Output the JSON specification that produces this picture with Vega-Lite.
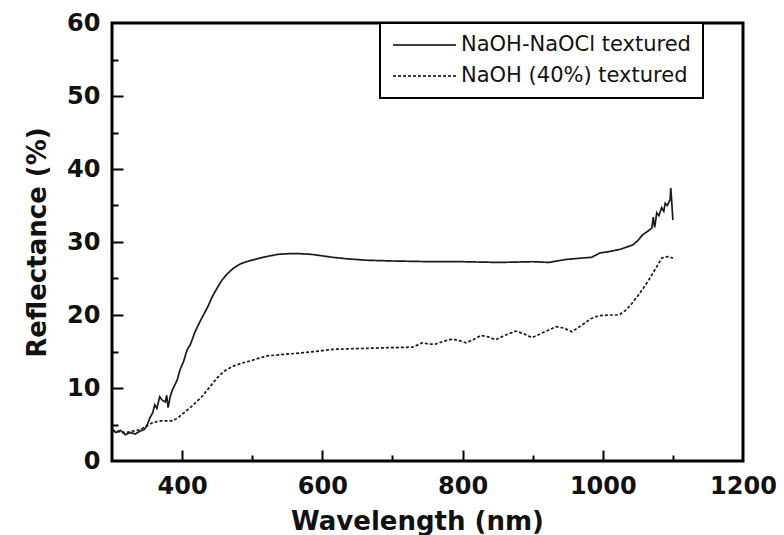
{
  "$schema": "https://vega.github.io/schema/vega-lite/v6.json",
  "width": 631,
  "height": 438,
  "autosize": {"type": "none"},
  "padding": {"left": 112, "top": 23, "right": 41, "bottom": 74},
  "background": "white",
  "config": {
    "view": {"stroke": "black", "strokeWidth": 3},
    "axis": {
      "grid": false,
      "domain": false,
      "tickColor": "black",
      "tickWidth": 2,
      "labelFont": "DejaVu Sans",
      "labelFontWeight": "bold",
      "labelFontSize": 24,
      "labelColor": "#111",
      "titleFont": "DejaVu Sans",
      "titleFontWeight": "bold",
      "titleFontSize": 26,
      "titleColor": "#111"
    },
    "legend": {
      "labelFont": "DejaVu Sans",
      "labelFontSize": 21,
      "labelColor": "#111",
      "labelLimit": 500,
      "strokeWidth": 2
    }
  },
  "datasets": {
    "spec": [
      {"wl": 300, "R": 4.5, "series": "NaOH-NaOCl textured"},
      {"wl": 305, "R": 3.9, "series": "NaOH-NaOCl textured"},
      {"wl": 312, "R": 4.2, "series": "NaOH-NaOCl textured"},
      {"wl": 319, "R": 3.6, "series": "NaOH-NaOCl textured"},
      {"wl": 326, "R": 3.9, "series": "NaOH-NaOCl textured"},
      {"wl": 333, "R": 3.7, "series": "NaOH-NaOCl textured"},
      {"wl": 340, "R": 4.1, "series": "NaOH-NaOCl textured"},
      {"wl": 346, "R": 4.3, "series": "NaOH-NaOCl textured"},
      {"wl": 350, "R": 4.9, "series": "NaOH-NaOCl textured"},
      {"wl": 354, "R": 5.9, "series": "NaOH-NaOCl textured"},
      {"wl": 358, "R": 6.6, "series": "NaOH-NaOCl textured"},
      {"wl": 361, "R": 7.7, "series": "NaOH-NaOCl textured"},
      {"wl": 364, "R": 7.2, "series": "NaOH-NaOCl textured"},
      {"wl": 368, "R": 8.8, "series": "NaOH-NaOCl textured"},
      {"wl": 372, "R": 8.3, "series": "NaOH-NaOCl textured"},
      {"wl": 376, "R": 8.1, "series": "NaOH-NaOCl textured"},
      {"wl": 378, "R": 9.0, "series": "NaOH-NaOCl textured"},
      {"wl": 380, "R": 7.3, "series": "NaOH-NaOCl textured"},
      {"wl": 383, "R": 8.8, "series": "NaOH-NaOCl textured"},
      {"wl": 386, "R": 9.7, "series": "NaOH-NaOCl textured"},
      {"wl": 390, "R": 10.5, "series": "NaOH-NaOCl textured"},
      {"wl": 393, "R": 11.1, "series": "NaOH-NaOCl textured"},
      {"wl": 397, "R": 12.5, "series": "NaOH-NaOCl textured"},
      {"wl": 402, "R": 13.6, "series": "NaOH-NaOCl textured"},
      {"wl": 407, "R": 15.2, "series": "NaOH-NaOCl textured"},
      {"wl": 412, "R": 16.0, "series": "NaOH-NaOCl textured"},
      {"wl": 418, "R": 17.6, "series": "NaOH-NaOCl textured"},
      {"wl": 426, "R": 19.2, "series": "NaOH-NaOCl textured"},
      {"wl": 436, "R": 21.0, "series": "NaOH-NaOCl textured"},
      {"wl": 443, "R": 22.5, "series": "NaOH-NaOCl textured"},
      {"wl": 450, "R": 23.7, "series": "NaOH-NaOCl textured"},
      {"wl": 457, "R": 24.8, "series": "NaOH-NaOCl textured"},
      {"wl": 464, "R": 25.6, "series": "NaOH-NaOCl textured"},
      {"wl": 473, "R": 26.4, "series": "NaOH-NaOCl textured"},
      {"wl": 483, "R": 27.0, "series": "NaOH-NaOCl textured"},
      {"wl": 495, "R": 27.4, "series": "NaOH-NaOCl textured"},
      {"wl": 507, "R": 27.7, "series": "NaOH-NaOCl textured"},
      {"wl": 520, "R": 28.0, "series": "NaOH-NaOCl textured"},
      {"wl": 536, "R": 28.3, "series": "NaOH-NaOCl textured"},
      {"wl": 552, "R": 28.4, "series": "NaOH-NaOCl textured"},
      {"wl": 568, "R": 28.4, "series": "NaOH-NaOCl textured"},
      {"wl": 585, "R": 28.3, "series": "NaOH-NaOCl textured"},
      {"wl": 600, "R": 28.1, "series": "NaOH-NaOCl textured"},
      {"wl": 615, "R": 27.9, "series": "NaOH-NaOCl textured"},
      {"wl": 635, "R": 27.7, "series": "NaOH-NaOCl textured"},
      {"wl": 663, "R": 27.5, "series": "NaOH-NaOCl textured"},
      {"wl": 700, "R": 27.4, "series": "NaOH-NaOCl textured"},
      {"wl": 757, "R": 27.3, "series": "NaOH-NaOCl textured"},
      {"wl": 800, "R": 27.3, "series": "NaOH-NaOCl textured"},
      {"wl": 852, "R": 27.2, "series": "NaOH-NaOCl textured"},
      {"wl": 900, "R": 27.3, "series": "NaOH-NaOCl textured"},
      {"wl": 923, "R": 27.2, "series": "NaOH-NaOCl textured"},
      {"wl": 947, "R": 27.6, "series": "NaOH-NaOCl textured"},
      {"wl": 970, "R": 27.8, "series": "NaOH-NaOCl textured"},
      {"wl": 984, "R": 27.9, "series": "NaOH-NaOCl textured"},
      {"wl": 996, "R": 28.5, "series": "NaOH-NaOCl textured"},
      {"wl": 1010, "R": 28.7, "series": "NaOH-NaOCl textured"},
      {"wl": 1025, "R": 29.0, "series": "NaOH-NaOCl textured"},
      {"wl": 1043, "R": 29.6, "series": "NaOH-NaOCl textured"},
      {"wl": 1050, "R": 30.2, "series": "NaOH-NaOCl textured"},
      {"wl": 1057, "R": 31.0, "series": "NaOH-NaOCl textured"},
      {"wl": 1063, "R": 31.4, "series": "NaOH-NaOCl textured"},
      {"wl": 1070, "R": 31.9, "series": "NaOH-NaOCl textured"},
      {"wl": 1072, "R": 33.4, "series": "NaOH-NaOCl textured"},
      {"wl": 1074, "R": 32.0, "series": "NaOH-NaOCl textured"},
      {"wl": 1077, "R": 34.0, "series": "NaOH-NaOCl textured"},
      {"wl": 1080, "R": 33.6, "series": "NaOH-NaOCl textured"},
      {"wl": 1084, "R": 34.7, "series": "NaOH-NaOCl textured"},
      {"wl": 1087, "R": 34.2, "series": "NaOH-NaOCl textured"},
      {"wl": 1089, "R": 35.3, "series": "NaOH-NaOCl textured"},
      {"wl": 1092, "R": 35.0, "series": "NaOH-NaOCl textured"},
      {"wl": 1096, "R": 35.8, "series": "NaOH-NaOCl textured"},
      {"wl": 1097, "R": 37.4, "series": "NaOH-NaOCl textured"},
      {"wl": 1098, "R": 36.0, "series": "NaOH-NaOCl textured"},
      {"wl": 1100, "R": 33.0, "series": "NaOH-NaOCl textured"},
      {"wl": 300, "R": 4.2, "series": "NaOH (40%) textured"},
      {"wl": 310, "R": 4.0, "series": "NaOH (40%) textured"},
      {"wl": 320, "R": 3.9, "series": "NaOH (40%) textured"},
      {"wl": 330, "R": 4.1, "series": "NaOH (40%) textured"},
      {"wl": 340, "R": 4.3, "series": "NaOH (40%) textured"},
      {"wl": 350, "R": 4.8, "series": "NaOH (40%) textured"},
      {"wl": 357, "R": 5.2, "series": "NaOH (40%) textured"},
      {"wl": 364, "R": 5.4, "series": "NaOH (40%) textured"},
      {"wl": 371, "R": 5.5, "series": "NaOH (40%) textured"},
      {"wl": 380, "R": 5.5, "series": "NaOH (40%) textured"},
      {"wl": 387, "R": 5.5, "series": "NaOH (40%) textured"},
      {"wl": 395, "R": 6.0, "series": "NaOH (40%) textured"},
      {"wl": 404, "R": 6.7, "series": "NaOH (40%) textured"},
      {"wl": 415, "R": 7.6, "series": "NaOH (40%) textured"},
      {"wl": 428, "R": 8.8, "series": "NaOH (40%) textured"},
      {"wl": 440, "R": 10.2, "series": "NaOH (40%) textured"},
      {"wl": 450, "R": 11.4, "series": "NaOH (40%) textured"},
      {"wl": 460, "R": 12.3, "series": "NaOH (40%) textured"},
      {"wl": 473, "R": 13.0, "series": "NaOH (40%) textured"},
      {"wl": 485, "R": 13.4, "series": "NaOH (40%) textured"},
      {"wl": 497, "R": 13.7, "series": "NaOH (40%) textured"},
      {"wl": 510, "R": 14.1, "series": "NaOH (40%) textured"},
      {"wl": 521, "R": 14.4, "series": "NaOH (40%) textured"},
      {"wl": 545, "R": 14.6, "series": "NaOH (40%) textured"},
      {"wl": 568, "R": 14.8, "series": "NaOH (40%) textured"},
      {"wl": 590, "R": 15.0, "series": "NaOH (40%) textured"},
      {"wl": 615, "R": 15.3, "series": "NaOH (40%) textured"},
      {"wl": 650, "R": 15.4, "series": "NaOH (40%) textured"},
      {"wl": 686, "R": 15.5, "series": "NaOH (40%) textured"},
      {"wl": 729, "R": 15.6, "series": "NaOH (40%) textured"},
      {"wl": 743, "R": 16.2, "series": "NaOH (40%) textured"},
      {"wl": 752, "R": 16.0, "series": "NaOH (40%) textured"},
      {"wl": 761, "R": 16.0, "series": "NaOH (40%) textured"},
      {"wl": 773, "R": 16.4, "series": "NaOH (40%) textured"},
      {"wl": 785, "R": 16.7, "series": "NaOH (40%) textured"},
      {"wl": 795, "R": 16.5, "series": "NaOH (40%) textured"},
      {"wl": 805, "R": 16.2, "series": "NaOH (40%) textured"},
      {"wl": 815, "R": 16.6, "series": "NaOH (40%) textured"},
      {"wl": 826, "R": 17.2, "series": "NaOH (40%) textured"},
      {"wl": 837, "R": 17.0, "series": "NaOH (40%) textured"},
      {"wl": 847, "R": 16.6, "series": "NaOH (40%) textured"},
      {"wl": 860, "R": 17.2, "series": "NaOH (40%) textured"},
      {"wl": 876, "R": 17.8, "series": "NaOH (40%) textured"},
      {"wl": 888, "R": 17.4, "series": "NaOH (40%) textured"},
      {"wl": 899, "R": 16.9, "series": "NaOH (40%) textured"},
      {"wl": 915, "R": 17.6, "series": "NaOH (40%) textured"},
      {"wl": 933, "R": 18.4, "series": "NaOH (40%) textured"},
      {"wl": 945, "R": 18.2, "series": "NaOH (40%) textured"},
      {"wl": 956, "R": 17.7, "series": "NaOH (40%) textured"},
      {"wl": 970, "R": 18.6, "series": "NaOH (40%) textured"},
      {"wl": 983, "R": 19.5, "series": "NaOH (40%) textured"},
      {"wl": 994, "R": 19.9, "series": "NaOH (40%) textured"},
      {"wl": 1010, "R": 20.0, "series": "NaOH (40%) textured"},
      {"wl": 1023, "R": 20.0, "series": "NaOH (40%) textured"},
      {"wl": 1032, "R": 20.6, "series": "NaOH (40%) textured"},
      {"wl": 1041, "R": 21.5, "series": "NaOH (40%) textured"},
      {"wl": 1053, "R": 23.0, "series": "NaOH (40%) textured"},
      {"wl": 1065, "R": 24.7, "series": "NaOH (40%) textured"},
      {"wl": 1075, "R": 26.3, "series": "NaOH (40%) textured"},
      {"wl": 1084, "R": 27.8, "series": "NaOH (40%) textured"},
      {"wl": 1092, "R": 28.0, "series": "NaOH (40%) textured"},
      {"wl": 1100, "R": 27.8, "series": "NaOH (40%) textured"}
    ]
  },
  "data": {"name": "spec"},
  "resolve": {"axis": {"x": "independent", "y": "independent"}},
  "layer": [
    {
      "mark": {"type": "point", "opacity": 0},
      "encoding": {
        "x": {
          "field": "wl", "type": "quantitative",
          "scale": {"domain": [300, 1200], "nice": false, "zero": false},
          "axis": {"orient": "bottom", "values": [500, 700, 900, 1100], "labels": false, "title": null, "tickSize": 6, "offset": -6}
        },
        "y": {
          "field": "R", "type": "quantitative",
          "scale": {"domain": [0, 60], "nice": false},
          "axis": {"orient": "left", "values": [5, 15, 25, 35, 45, 55], "labels": false, "title": null, "tickSize": 6, "offset": -6}
        }
      }
    },
    {
      "mark": {"type": "point", "opacity": 0},
      "encoding": {
        "x": {
          "field": "wl", "type": "quantitative",
          "axis": {"orient": "bottom", "values": [400, 600, 800, 1000], "labels": false, "title": null, "tickSize": 11, "offset": -11}
        },
        "y": {
          "field": "R", "type": "quantitative",
          "axis": {"orient": "left", "values": [10, 20, 30, 40, 50], "labels": false, "title": null, "tickSize": 11, "offset": -11}
        }
      }
    },
    {
      "mark": {"type": "line", "strokeWidth": 1.7, "color": "#1a1a1a", "interpolate": "linear"},
      "encoding": {
        "x": {
          "field": "wl", "type": "quantitative",
          "axis": {
            "orient": "bottom",
            "values": [400, 600, 800, 1000, 1200],
            "format": "d",
            "ticks": false,
            "labelPadding": 13,
            "labelFlush": false,
            "labelOverlap": false,
            "title": "Wavelength (nm)",
            "titleX": 305,
            "titleY": 68,
            "titleBaseline": "alphabetic"
          }
        },
        "y": {
          "field": "R", "type": "quantitative",
          "axis": {
            "orient": "left",
            "values": [0, 10, 20, 30, 40, 50, 60],
            "format": "d",
            "ticks": false,
            "labelPadding": 12,
            "labelFlush": false,
            "labelOverlap": false,
            "title": "Reflectance (%)",
            "titleX": -67,
            "titleY": 219,
            "titleAngle": -90,
            "titleAlign": "center",
            "titleBaseline": "alphabetic"
          }
        },
        "strokeDash": {
          "field": "series", "type": "nominal",
          "scale": {"domain": ["NaOH-NaOCl textured", "NaOH (40%) textured"], "range": [[1, 0], [3, 2]]},
          "legend": {
            "title": null,
            "orient": "none",
            "legendX": 268,
            "legendY": 0,
            "symbolType": "stroke",
            "symbolSize": 3969,
            "symbolStrokeWidth": 1.5,
            "symbolStrokeColor": "black",
            "clipHeight": 20,
            "rowPadding": 10,
            "padding": 12,
            "strokeColor": "black",
            "fillColor": "white",
            "labelOffset": 4,
            "labelLimit": 500
          }
        }
      }
    }
  ]
}
